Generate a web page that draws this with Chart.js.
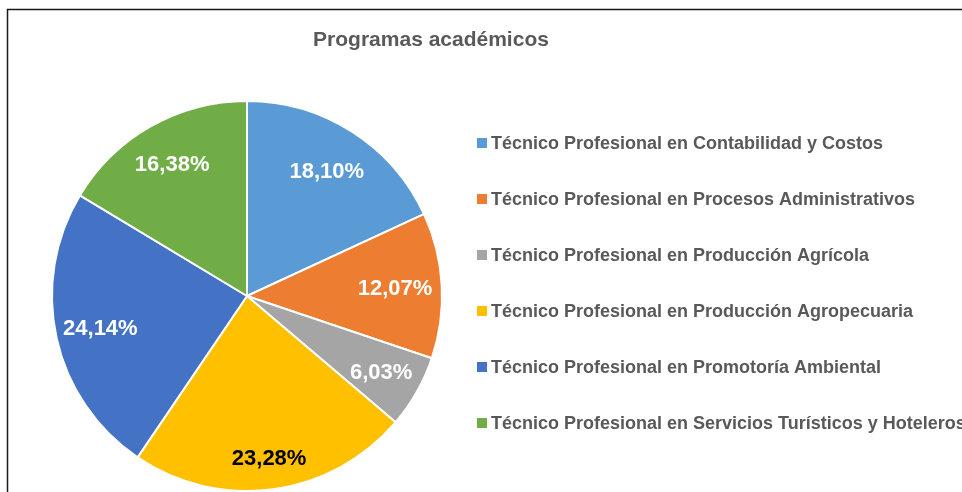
<!DOCTYPE html>
<html>
<head>
<meta charset="utf-8">
<script src="https://cdn.jsdelivr.net/npm/chart.js@4.4.0/dist/chart.umd.min.js"></script>
<style>
  html, body { margin: 0; padding: 0; background: #fff; }
  #wrap { position: relative; width: 962px; height: 492px; }
</style>
</head>
<body>
<div id="wrap"><canvas id="myChart_1"></canvas></div>
<script>
var chartTitle = "Programas académicos";
var programas = [
  "Técnico Profesional en Contabilidad y Costos",
  "Técnico Profesional en Procesos Administrativos",
  "Técnico Profesional en Producción Agrícola",
  "Técnico Profesional en Producción Agropecuaria",
  "Técnico Profesional en Promotoría Ambiental",
  "Técnico Profesional en Servicios Turísticos y Hoteleros"
];
var estudiantes = [21, 14, 7, 27, 28, 19];

var colores = ["#5B9BD5", "#ED7D31", "#A5A5A5", "#FFC000", "#4472C4", "#70AD47"];
var coloresEtiqueta = ["#FFFFFF", "#FFFFFF", "#FFFFFF", "#000000", "#FFFFFF", "#FFFFFF"];
// how far out each label sits (Excel "best fit" is not exactly uniform)
var distEtiqueta = [0.76, 0.76, 0.79, 0.84, 0.77, 0.78];
var grisTexto = "#595959";
var fuente = "'Liberation Sans', Arial, sans-serif";

var total = estudiantes.reduce(function (a, b) { return a + b; }, 0);

function porcentaje(v) {
  return (v / total * 100).toFixed(2).replace(".", ",") + "%";
}

// frame, title, slice labels and legend, drawn like the Excel original
var extras = {
  id: "extras",
  beforeDraw: function (chart) {
    var c = chart.ctx;
    c.save();
    c.strokeStyle = "#1a1a1a";
    c.lineWidth = 1.5;
    c.beginPath();
    c.moveTo(7.5, chart.height);
    c.lineTo(7.5, 9.5);
    c.lineTo(chart.width, 9.5);
    c.stroke();

    c.fillStyle = grisTexto;
    c.font = "bold 21px " + fuente;
    c.textAlign = "center";
    c.textBaseline = "middle";
    c.fillText(chartTitle, 431, 40);
    c.restore();
  },
  afterDatasetsDraw: function (chart) {
    var c = chart.ctx;
    var meta = chart.getDatasetMeta(0);
    c.save();
    c.font = "bold 22px " + fuente;
    c.textAlign = "center";
    c.textBaseline = "middle";
    meta.data.forEach(function (arc, i) {
      var mid = (arc.startAngle + arc.endAngle) / 2;
      var r = arc.outerRadius * distEtiqueta[i];
      c.fillStyle = coloresEtiqueta[i];
      c.fillText(porcentaje(estudiantes[i]), arc.x + Math.cos(mid) * r, arc.y + Math.sin(mid) * r + 1);
    });

    c.font = "bold 18px " + fuente;
    c.textAlign = "left";
    programas.forEach(function (p, i) {
      var y = 143 + i * 56;
      c.fillStyle = colores[i];
      c.fillRect(477, y - 5, 10, 10);
      c.fillStyle = grisTexto;
      c.fillText(p, 491, y + 1);
    });
    c.restore();
  }
};

var ctx = document.getElementById("myChart_1");
var myChart = new Chart(ctx, {
  type: "pie",
  data: {
    labels: programas,
    datasets: [
      {
        data: estudiantes,
        backgroundColor: colores,
        borderColor: "#FFFFFF",
        borderWidth: 2,
        hoverOffset: 0
      }
    ]
  },
  options: {
    responsive: true,
    maintainAspectRatio: false,
    animation: false,
    layout: { padding: { left: 50, top: 100, right: 518, bottom: 0 } },
    plugins: {
      legend: { display: false },
      title: { display: false },
      tooltip: { enabled: false }
    }
  },
  plugins: [extras]
});
</script>
</body>
</html>
